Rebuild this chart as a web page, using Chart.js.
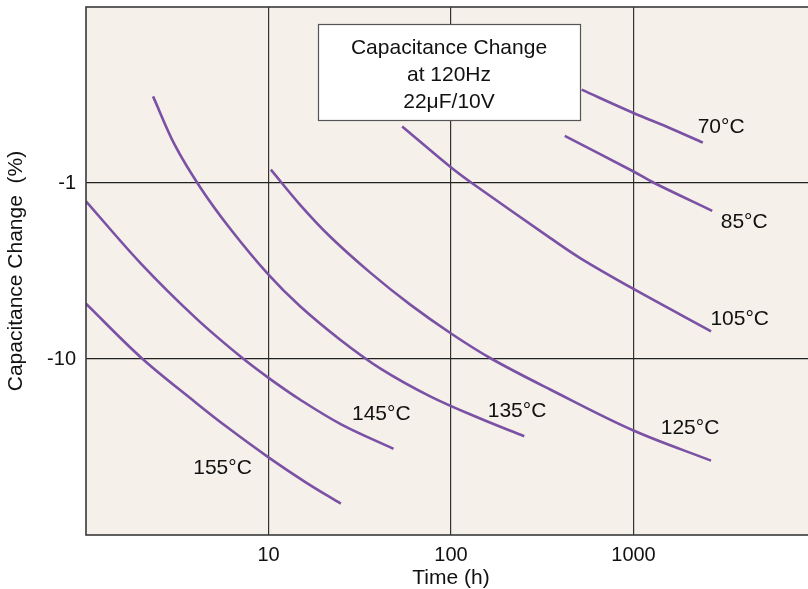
<!DOCTYPE html>
<html>
<head>
<meta charset="utf-8">
<script src="https://cdn.jsdelivr.net/npm/chart.js@4.4.1/dist/chart.umd.min.js"></script>
<style>
  html, body { margin: 0; padding: 0; background: #fff; overflow: hidden; }
  canvas { display: block; }
</style>
</head>
<body>
<canvas id="chart" width="816" height="589"></canvas>
<script>
// Time (h) and capacitance change (%) for each test temperature
const t70  = [520, 1000, 1600, 2400];
const c70  = [-0.295, -0.40, -0.49, -0.59];
const t85  = [420, 1000, 1300, 2700];
const c85  = [-0.54, -0.86, -1.0, -1.44];
const t105 = [54, 101, 130, 349, 510, 1000, 2660];
const c105 = [-0.477, -0.822, -1.0, -2.05, -2.67, -4.0, -6.96];
const t125 = [10.3, 14.9, 21.8, 36.1, 59.8, 101, 167.5, 349.5, 1000, 2660];
const c125 = [-0.84, -1.33, -2.02, -3.23, -4.91, -7.21, -10, -14.9, -25.5, -37.8];
const t135 = [2.33, 3.08, 4.23, 6.17, 10, 14.9, 24.7, 40.9, 76.9, 144.5, 252];
const c135 = [-0.322, -0.614, -1.06, -1.82, -3.32, -5.02, -7.77, -11.3, -16.3, -21.8, -27.5];
const t145 = [1, 2, 4, 7, 10, 15, 25, 48.4];
const c145 = [-1.27, -2.87, -5.86, -9.66, -12.8, -17.1, -23.5, -32.4];
const t155 = [1, 2, 4, 6, 10, 16, 24.9];
const c155 = [-4.85, -9.8, -17.7, -24.6, -36.2, -50.2, -66.4];

const temps  = ['70°C', '85°C', '105°C', '125°C', '135°C', '145°C', '155°C'];
const times  = [t70, t85, t105, t125, t135, t145, t155];
const change = [c70, c85, c105, c125, c135, c145, c155];

const xTicks = [10, 100, 1000];
const yTicks = [-1, -10];
const boxLines = ['Capacitance Change', 'at 120Hz', '22\u03bcF/10V'];

// temperature tags, placed in axis units (h, %)
const tagSpots = [[3020, -0.48], [4040, -1.68], [3820, -5.98], [2040, -24.6], [230, -19.7], [41.5, -20.7], [5.6, -41.5]];

const FONT = '"Liberation Sans", Arial, Helvetica, sans-serif';
const PURPLE = '#7a51a5';

const datasets = temps.map((name, i) => ({
  label: name,
  // the y axis runs on the size of the drop, so plot -change
  data: times[i].map((t, j) => ({ x: t, y: -change[i][j] })),
  borderColor: PURPLE,
  borderWidth: 2.6,
  pointRadius: 0,
  fill: false,
  tension: 0.35
}));

const plotFrame = {
  id: 'plotFrame',
  beforeDraw(chart) {
    const { ctx, chartArea: a } = chart;
    ctx.save();
    ctx.fillStyle = '#f5f0e9';
    ctx.fillRect(a.left, a.top, a.right - a.left, a.bottom - a.top);
    ctx.restore();
  },
  afterDatasetsDraw(chart) {
    const { ctx, chartArea: a, scales } = chart;
    ctx.save();
    ctx.strokeStyle = '#3a3a3a';
    ctx.lineWidth = 1.6;
    ctx.strokeRect(a.left, a.top, a.right - a.left, a.bottom - a.top);

    // caption box
    ctx.fillStyle = '#fff';
    ctx.fillRect(318, 24, 262, 97);
    ctx.strokeStyle = '#555';
    ctx.lineWidth = 1.2;
    ctx.strokeRect(318.5, 24.5, 262, 96);
    ctx.fillStyle = '#111';
    ctx.font = '21px ' + FONT;
    ctx.textAlign = 'center';
    ctx.textBaseline = 'middle';
    boxLines.forEach((s, i) => ctx.fillText(s, 449, 48 + i * 27));

    // temperature tags
    tagSpots.forEach(([t, c], i) => {
      ctx.fillText(temps[i], scales.x.getPixelForValue(t), scales.y.getPixelForValue(-c));
    });
    ctx.restore();
  }
};

// no extra room for edge labels: the plot box is fixed by the layout padding
const noEdgePad = s => { s.paddingTop = 0; s.paddingBottom = 0; s.paddingLeft = 0; s.paddingRight = 0; };

new Chart(document.getElementById('chart'), {
  type: 'line',
  data: { datasets },
  plugins: [plotFrame],
  options: {
    responsive: false,
    animation: false,
    devicePixelRatio: 1,
    layout: { padding: { top: 7, right: 0, bottom: 0, left: 0 } },
    plugins: { legend: { display: false }, tooltip: { enabled: false } },
    scales: {
      x: {
        type: 'logarithmic',
        min: 1,
        max: 10000,
        afterBuildTicks: s => { s.ticks = xTicks.map(v => ({ value: v })); },
        afterFit: s => { s.height = 54; noEdgePad(s); },
        ticks: {
          color: '#111',
          font: { family: FONT, size: 20 },
          padding: 8,
          maxRotation: 0,
          autoSkip: false,
          callback: v => String(v)
        },
        grid: { color: '#333', lineWidth: 1.2, drawTicks: false },
        border: { display: false },
        title: {
          display: true,
          text: 'Time (h)',
          color: '#111',
          font: { family: FONT, size: 21, lineHeight: 1 },
          padding: { top: 0, bottom: 0 }
        }
      },
      y: {
        type: 'logarithmic',
        reverse: true,
        min: 0.1,
        max: 100,
        afterBuildTicks: s => { s.ticks = yTicks.map(v => ({ value: -v })); },
        afterFit: s => { s.width = 86; noEdgePad(s); },
        ticks: {
          color: '#111',
          font: { family: FONT, size: 20 },
          padding: 10,
          autoSkip: false,
          callback: v => '-' + v
        },
        grid: { color: '#222', lineWidth: 1.2, drawTicks: false },
        border: { display: false },
        title: {
          display: true,
          text: 'Capacitance Change  (%)',
          color: '#111',
          font: { family: FONT, size: 21, lineHeight: 1 },
          padding: { top: 6, bottom: 0 }
        }
      }
    }
  }
});
</script>
</body>
</html>
